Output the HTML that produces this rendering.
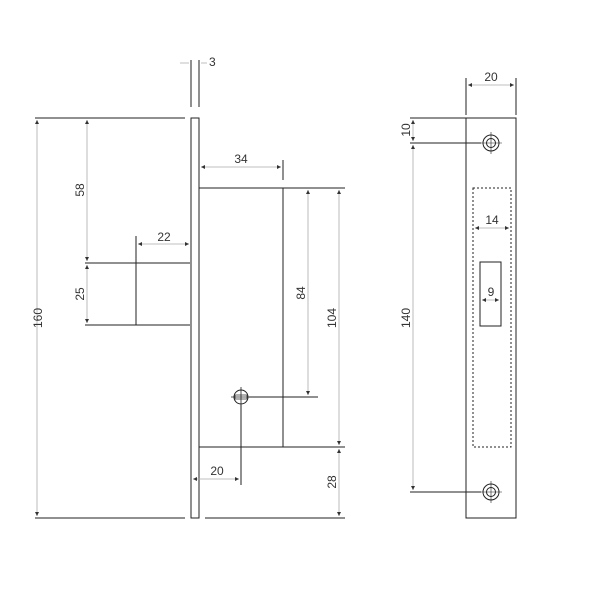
<!DOCTYPE html>
<html><head><style>body{margin:0;background:#fff}svg{display:block}</style></head><body>
<svg width="600" height="600" viewBox="0 0 600 600" xmlns="http://www.w3.org/2000/svg" font-family="Liberation Sans, sans-serif" font-size="12" fill="none">
<defs>
<marker id="a" viewBox="0 0 6 6" refX="6" refY="3" markerWidth="5" markerHeight="5" orient="auto-start-reverse"><path d="M0,0 L6,3 L0,6 z" fill="#333"/></marker>
</defs>
<g stroke="#222" stroke-width="1">
<rect x="191" y="118" width="8" height="400"/>
<path d="M199 188 H283 V447 H199"/>
<path d="M190 263 H136 V325 H190"/>
<path d="M35 118 H185 M35 518 H185 M205 518 H345 M185 263 H85 M185 325 H85 M283 188 H345 M283 447 H345 M249 397 H318"/>
<path d="M191 60 V107 M199 60 V107 M283 160 V180 M136 236 V263 M241 405 V485"/>
<circle cx="241" cy="397" r="7"/>
<path d="M231 397 H251 M241 387 V407" stroke-width="0.8"/>
<rect x="235" y="395" width="12" height="4" stroke-width="0.7"/>
<rect x="466" y="118" width="50" height="400"/>
<rect x="473" y="188" width="38" height="259" stroke-dasharray="2,2"/>
<rect x="480" y="262" width="21" height="64"/>
<circle cx="491" cy="143" r="8"/><circle cx="491" cy="143" r="4.5"/>
<circle cx="491" cy="492" r="8"/><circle cx="491" cy="492" r="4.5"/>
<path d="M480 143 H502 M491 132 V154 M480 492 H502 M491 481 V503" stroke-width="0.6"/>
<path d="M410 118 H466 M410 143 H481 M410 492 H481 M466 78 V115 M516 78 V115"/>
</g>
<g stroke="#aaa" stroke-width="0.8" marker-start="url(#a)" marker-end="url(#a)">
<line x1="37" y1="120" x2="37" y2="516"/>
<line x1="87" y1="120" x2="87" y2="261"/>
<line x1="87" y1="265" x2="87" y2="323"/>
<line x1="138" y1="244" x2="189" y2="244"/>
<line x1="201" y1="167" x2="281" y2="167"/>
<line x1="308" y1="190" x2="308" y2="395"/>
<line x1="339" y1="190" x2="339" y2="445"/>
<line x1="339" y1="449" x2="339" y2="516"/>
<line x1="193" y1="479" x2="239" y2="479"/>
<line x1="468" y1="85" x2="514" y2="85"/>
<line x1="413" y1="120" x2="413" y2="141"/>
<line x1="413" y1="145" x2="413" y2="490"/>
<line x1="475" y1="228" x2="509" y2="228"/>
<line x1="482" y1="300" x2="499" y2="300"/>
</g>
<g stroke="#aaa" stroke-width="0.8"><path d="M180 63 H189 M201 63 H207"/></g>
<g fill="#333" text-anchor="middle">
<text x="209" y="66" text-anchor="start">3</text>
<text x="164" y="241">22</text>
<text x="241" y="163">34</text>
<text x="217" y="475">20</text>
<text x="491" y="81">20</text>
<text x="492" y="224">14</text>
<text x="491" y="296">9</text>
<text transform="translate(42,318) rotate(-90)">160</text>
<text transform="translate(84,190) rotate(-90)">58</text>
<text transform="translate(84,294) rotate(-90)">25</text>
<text transform="translate(305,293) rotate(-90)">84</text>
<text transform="translate(336,318) rotate(-90)">104</text>
<text transform="translate(336,482) rotate(-90)">28</text>
<text transform="translate(410,130) rotate(-90)">10</text>
<text transform="translate(410,318) rotate(-90)">140</text>
</g>
</svg>
</body></html>
